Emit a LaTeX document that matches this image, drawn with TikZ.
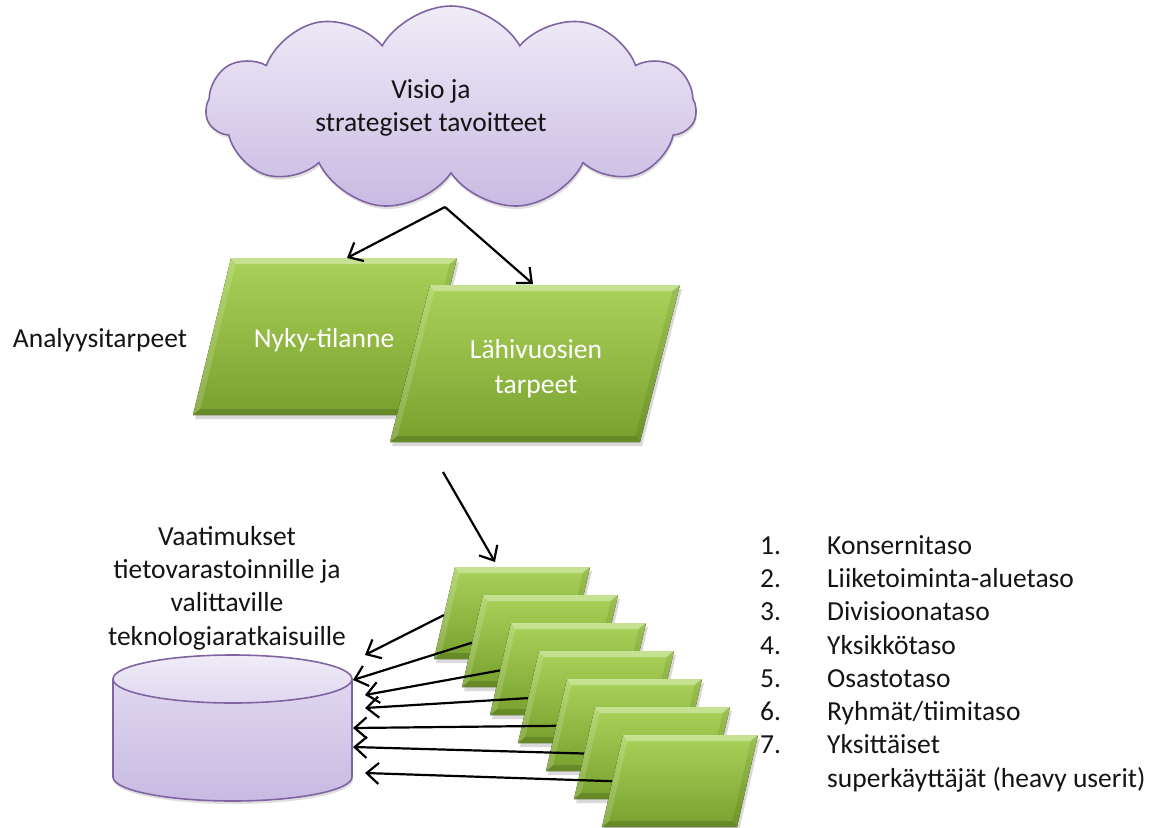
\documentclass[tikz,border=0pt]{standalone}
\usepackage{fontspec}
\setmainfont{Carlito}
\usetikzlibrary{shapes.symbols,arrows.meta,shadows}

\definecolor{slabtop}{RGB}{170,210,90}
\definecolor{slabbot}{RGB}{120,160,46}
\definecolor{lilac}{RGB}{128,100,162}
\definecolor{lilactop}{RGB}{240,236,248}
\definecolor{lilacbot}{RGB}{200,186,226}
\definecolor{ink}{RGB}{20,20,20}

\tikzset{
  txt/.style={font=\fontsize{27.5}{33.3}\selectfont, inner sep=0pt, align=center, text=ink},
  slabtxt/.style={txt, text=white, font=\fontsize{27.5}{35}\selectfont},
  flow/.style={-{Straight Barb[length=12pt,width=21pt]}, line width=2.2pt, black},
  slabfill/.style={top color=slabtop, bottom color=slabbot,
    drop shadow={shadow xshift=2pt, shadow yshift=-4pt, opacity=0.3}},
}

% slanted green slab: name, top-left x, top-left y, width, height, slant
\newcommand\slab[6]{%
  \pgfmathsetmacro\sx{#2}\pgfmathsetmacro\sy{#3}%
  \pgfmathsetmacro\sw{#4}\pgfmathsetmacro\sh{#5}\pgfmathsetmacro\ss{#6}%
  \pgfmathsetmacro\sd{6}%
  \pgfmathsetmacro\sk{\ss*\sd/\sh}%
  \fill[slabfill] (\sx,\sy) -- ++(\sw,0) -- ++(-\ss,\sh) -- ++(-\sw,0) -- cycle;
  % bevel bands
  \fill[white,opacity=0.35] (\sx,\sy) -- (\sx+\sw,\sy) -- (\sx+\sw-\sd-\sk,\sy+\sd) -- (\sx+\sd-\sk,\sy+\sd) -- cycle;
  \fill[white,opacity=0.15] (\sx,\sy) -- (\sx+\sd-\sk,\sy+\sd) -- (\sx-\ss+\sd+\sk,\sy+\sh-\sd) -- (\sx-\ss,\sy+\sh) -- cycle;
  \fill[black,opacity=0.08] (\sx+\sw,\sy) -- (\sx+\sw-\ss,\sy+\sh) -- (\sx+\sw-\ss-\sd+\sk,\sy+\sh-\sd) -- (\sx+\sw-\sd-\sk,\sy+\sd) -- cycle;
  \fill[black,opacity=0.15] (\sx-\ss,\sy+\sh) -- (\sx-\ss+\sd+\sk,\sy+\sh-\sd) -- (\sx+\sw-\ss-\sd+\sk,\sy+\sh-\sd) -- (\sx+\sw-\ss,\sy+\sh) -- cycle;
  \coordinate (#1) at (\sx+\sw/2-\ss/2,\sy+\sh/2);
}

\begin{document}
\begin{tikzpicture}[x=1pt,y=-1pt]
\useasboundingbox (0,0) rectangle (1163,828);

% cloud
\node[cloud, cloud puffs=11, cloud puff arc=120, cloud ignores aspect,
      minimum width=490pt, minimum height=204pt, inner sep=0pt,
      draw=lilac, line width=1.6pt, top color=lilactop, bottom color=lilacbot,
      drop shadow={shadow xshift=1pt, shadow yshift=-3pt, opacity=0.25}]
      (cloud) at (451,108) {};
\node[txt] (vision) at (431,108) {Visio ja\\strategiset tavoitteet};

% analysis needs
\node[txt] (analysis) at (100,340) {Analyysitarpeet};
\slab{nyky}{231}{258}{226}{157}{38}
\slab{lahi}{430}{285}{250}{157}{40}
\node[slabtxt] (nykytxt) at (324,340) {Nyky-tilanne};
\node[slabtxt] (lahitxt) at (536,369) {Lähivuosien\\tarpeet};

\coordinate (cloudout) at (445,207);
\coordinate (nykyin) at (347,258);
\coordinate (lahiin) at (533,284);
\draw[flow] (cloudout) -- (nykyin);
\draw[flow] (cloudout) -- (lahiin);

% organisational levels
\foreach \i in {1,...,7}{
  \slab{lev\i}{455+28*(\i-1)}{567+28*(\i-1)}{135}{92}{21}
}
\coordinate (needsout) at (443,472);
\coordinate (levin) at (495,562);
\draw[flow] (needsout) -- (levin);

% data warehouse cylinder
\fill[top color=lilactop!70!lilacbot, bottom color=lilacbot,
      drop shadow={shadow xshift=1pt, shadow yshift=-3pt, opacity=0.25}]
  (113,679) -- (113,777) arc[start angle=180, end angle=0, x radius=119.5, y radius=24]
  -- (352,679) arc[start angle=0, end angle=-180, x radius=119.5, y radius=24] -- cycle;
\draw[lilac, line width=1.6pt]
  (113,679) -- (113,777) arc[start angle=180, end angle=0, x radius=119.5, y radius=24]
  -- (352,679);
\draw[lilac, line width=1.6pt, top color=lilactop, bottom color=lilactop!60!lilacbot]
  (232.5,679) ellipse[x radius=119.5, y radius=24];
\node[inner sep=0pt, minimum width=239pt, minimum height=146pt] (dw) at (232.5,728) {};

\node[txt] (req) at (227,588) {Vaatimukset\\tietovarastoinnille ja\\valittaville\\teknologiaratkaisuille};

% connectors from each level to the warehouse
\foreach \i/\tx/\ty in {1/365/655, 2/353/680, 3/365/695, 4/365/708, 5/353/728, 6/353/747, 7/365/773}{
  \coordinate (out\i) at ({455+28*(\i-1)-11}, {615+27.7*(\i-1)});
  \coordinate (in\i) at (\tx,\ty);
  \draw[flow] (out\i) -- (in\i);
}

% list of levels
\node[txt, align=left, anchor=north west] (levels) at (760,535) {%
  \makebox[67pt][l]{1.}Konsernitaso\\
  \makebox[67pt][l]{2.}Liiketoiminta-aluetaso\\
  \makebox[67pt][l]{3.}Divisioonataso\\
  \makebox[67pt][l]{4.}Yksikkötaso\\
  \makebox[67pt][l]{5.}Osastotaso\\
  \makebox[67pt][l]{6.}Ryhmät/tiimitaso\\
  \makebox[67pt][l]{7.}Yksittäiset\\
  \hspace*{67pt}superkäyttäjät (heavy userit)};
\end{tikzpicture}
\end{document}
